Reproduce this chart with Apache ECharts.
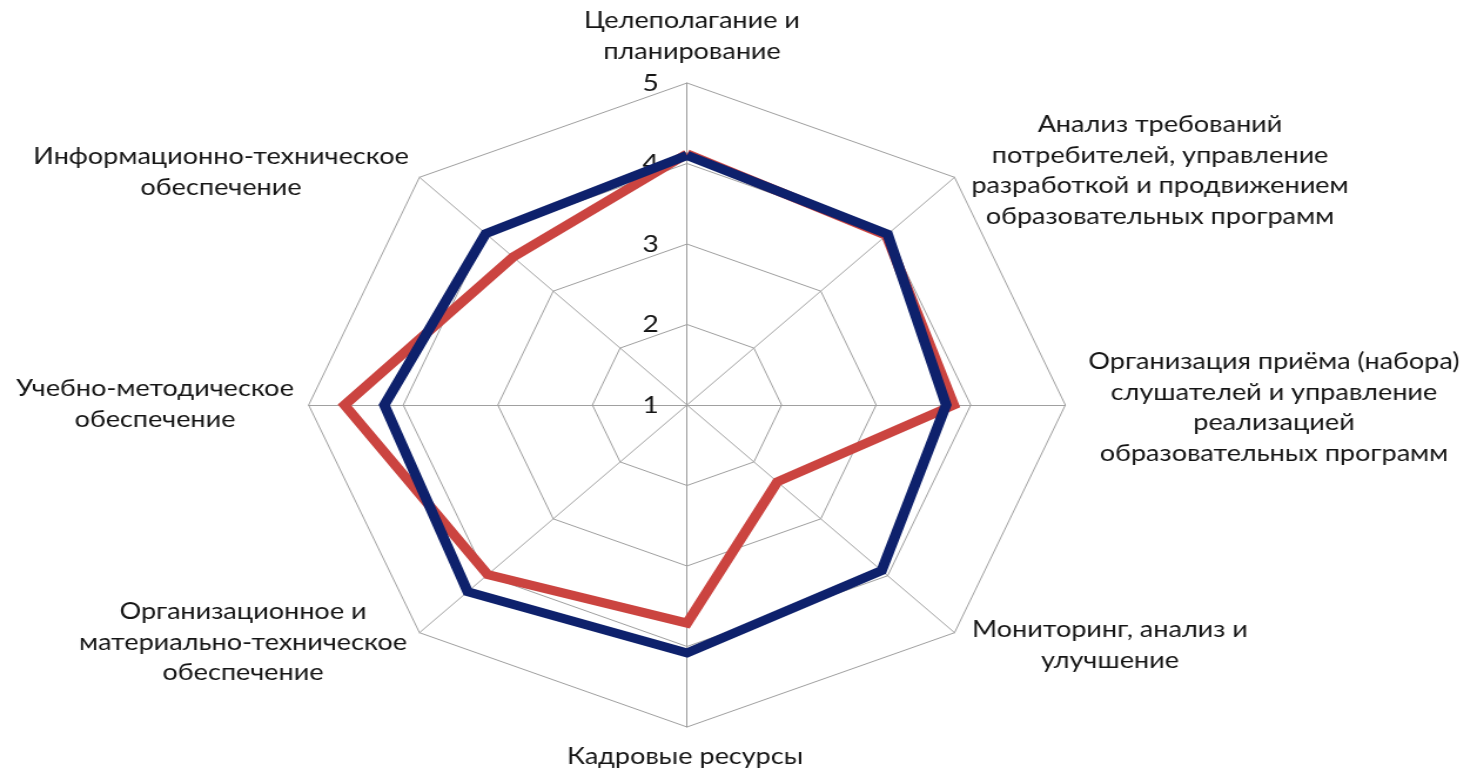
<!DOCTYPE html>
<html>
<head>
<meta charset="utf-8">
<script src="https://cdn.jsdelivr.net/npm/echarts@6/dist/echarts.min.js"></script>
<style>
  html, body { margin: 0; padding: 0; background: #ffffff; overflow: hidden; }
</style>
</head>
<body>
<div id="chart"></div>
<script>
// ---- data (clockwise from the top axis) ----
const categories = [
  'Целеполагание и\nпланирование',
  'Анализ требований\nпотребителей, управление\nразработкой и продвижением\nобразовательных программ',
  'Организация приёма (набора)\nслушателей и управление\nреализацией\nобразовательных программ',
  'Мониторинг, анализ и\nулучшение',
  'Кадровые ресурсы',
  'Организационное и\nматериально-техническое\nобеспечение',
  'Учебно-методическое\nобеспечение',
  'Информационно-техническое\nобеспечение'
];
const seriesBlue = [4.10, 4.00, 3.74, 3.91, 4.08, 4.28, 4.20, 4.01];
const seriesRed  = [4.12, 3.98, 3.82, 2.35, 3.71, 3.98, 4.62, 3.60];
const tickLabels = ['1', '2', '3', '4', '5'];

// ---- layout ----
const S = 1.175;                       // horizontal stretch of the picture
const W = Math.round(1470 / S);
const H = 773;
const cx = 687 / S, cy = 405, R = 322;
// label anchor: centre x (picture px), middle of first line y
const labelPos = [[692, 21], [1160, 125], [1274, 362], [1110, 630], [685, 757], [243, 612], [155, 389], [221, 157]];
const LH = 30.5;

const el = document.getElementById('chart');
el.style.width = W + 'px';
el.style.height = H + 'px';
el.style.transform = 'scaleX(' + S + ')';
el.style.transformOrigin = '0 0';

// ECharts radar runs counter-clockwise; reorder the clockwise lists
const order = [0, 7, 6, 5, 4, 3, 2, 1];
const reorder = arr => order.map(i => arr[i]);

const chart = echarts.init(el, null, { renderer: 'canvas' });
chart.setOption({
  animation: false,
  backgroundColor: '#ffffff',
  grid: { left: cx, top: cy - R, height: R, width: 10 },
  xAxis: { type: 'value', show: false },
  yAxis: {
    type: 'value', min: 1, max: 5, interval: 1,
    axisLine: { show: false }, axisTick: { show: false }, splitLine: { show: false },
    axisLabel: {
      margin: 24, fontSize: 24, fontFamily: 'Lato', color: '#151515',
      formatter: v => tickLabels[Math.round(v) - 1]
    }
  },
  radar: {
    center: [cx, cy],
    radius: R,
    startAngle: 90,
    shape: 'polygon',
    splitNumber: 4,
    indicator: order.map(i => ({ name: categories[i], min: 1, max: 5 })),
    axisName: { show: false },
    axisLine: { lineStyle: { color: '#a0a0a0', width: 1 } },
    axisTick: { show: false },
    axisLabel: { show: false },
    splitLine: { lineStyle: { color: '#a0a0a0', width: 1 } },
    splitArea: { show: false }
  },
  series: [
    {
      type: 'radar', z: 2, symbol: 'none',
      data: [{
        name: 'Ряд 2', value: reorder(seriesRed),
        lineStyle: { color: '#cb4440', width: 9, join: 'miter' },
        itemStyle: { color: '#cb4440' }
      }]
    },
    {
      type: 'radar', z: 3, symbol: 'none',
      data: [{
        name: 'Ряд 1', value: reorder(seriesBlue),
        lineStyle: { color: '#0e216c', width: 9, join: 'miter' },
        itemStyle: { color: '#0e216c' }
      }]
    }
  ],
  graphic: categories.map((t, i) => ({
    type: 'text',
    x: labelPos[i][0] / S,
    y: labelPos[i][1] - LH / 2,
    style: {
      text: t,
      textAlign: 'center',
      textVerticalAlign: 'top',
      font: '23px Lato',
      lineHeight: LH,
      fill: '#151515'
    }
  }))
});
</script>
</body>
</html>
